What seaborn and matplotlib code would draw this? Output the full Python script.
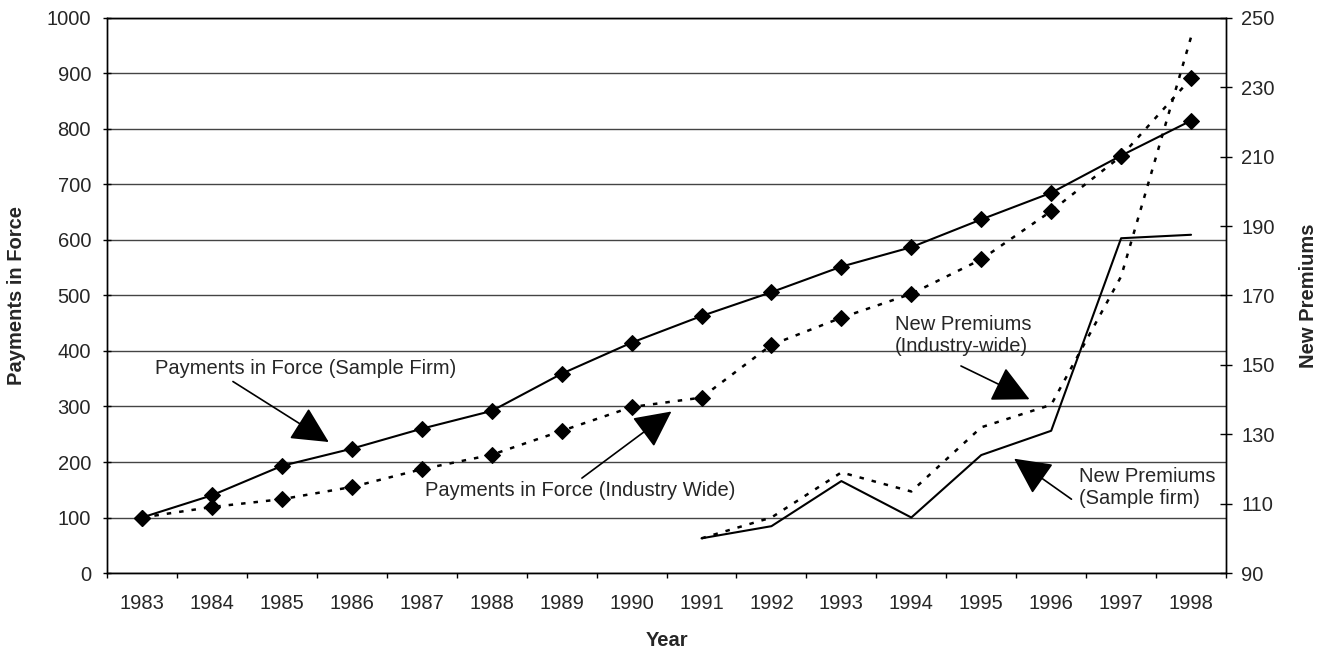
import numpy as np
import pandas as pd
import matplotlib
matplotlib.use("Agg")
import matplotlib.pyplot as plt
import seaborn as sns

years = [str(y) for y in range(1983, 1999)]
pif_sample = [100, 140, 193, 224, 260, 292, 359, 415, 463, 506, 552, 587, 637, 685, 752, 815]
pif_industry = [100, 119, 133, 155, 187, 213, 256, 299, 316, 411, 460, 503, 565, 652, 751, 891]

premium_years = [str(y) for y in range(1991, 1999)]
np_sample = [100, 103.5, 116.5, 106, 124, 131, 186.5, 187.5]
np_industry = [100, 106, 119, 113.5, 132, 138.5, 175.5, 244.5]

left_ticks = list(range(0, 1001, 100))
right_ticks = list(range(90, 251, 20))

sns.set_style("white")
plt.rcParams["font.family"] = ["Liberation Sans", "DejaVu Sans"]
FS = 14.5

x_all = np.arange(len(years))
x_prem = np.array([years.index(y) for y in premium_years])

fig = plt.figure(figsize=(13.25, 6.6), dpi=100)
ax = fig.add_axes([0.0808, 0.1318, 0.8445, 0.841])
ax2 = ax.twinx()

dotted = (0, (1.8, 3.2))

# Payments in force (left axis)
sns.lineplot(x=x_all, y=pif_sample, ax=ax, color="black", lw=1.5,
             marker="D", markersize=8, markeredgecolor="black")
sns.lineplot(x=x_all, y=pif_industry, ax=ax, color="black", lw=1.8,
             linestyle=dotted, marker="D", markersize=8, markeredgecolor="black")

# New premiums (right axis)
sns.lineplot(x=x_prem, y=np_sample, ax=ax2, color="black", lw=1.5)
sns.lineplot(x=x_prem, y=np_industry, ax=ax2, color="black", lw=1.8, linestyle=dotted)

ax.set_xlim(-0.5, len(years) - 0.5)
ax.set_ylim(0, 1000)
ax2.set_ylim(90, 250)
ax.set_yticks(left_ticks)
ax2.set_yticks(right_ticks)

ax.set_xticks(x_all)
ax.set_xticklabels(years)
ax.set_xticks(np.arange(-0.5, len(years)), minor=True)
ax.tick_params(axis="x", which="major", length=0, pad=15, labelsize=FS)
ax.tick_params(axis="x", which="minor", length=3.6, width=1, color="black", direction="out")
ax.tick_params(axis="y", length=6, width=1, color="black", direction="inout", labelsize=FS, pad=8.5)
ax2.tick_params(axis="y", length=9, width=1, color="black", direction="inout", labelsize=FS, pad=6.3)
ax.xaxis.set_ticks_position("bottom")
ax.yaxis.set_ticks_position("left")

ax.grid(axis="y", color="#444444", lw=1)
ax.set_axisbelow(True)
for a in (ax, ax2):
    for s in a.spines.values():
        s.set_color("black")
        s.set_linewidth(1)

ax.set_xlabel("Year", fontsize=FS, fontweight="bold")
ax.xaxis.set_label_coords(0.5, -0.104)
ax.set_ylabel("Payments in Force", fontsize=FS, fontweight="bold")
ax.yaxis.set_label_coords(-0.072, 0.5)
ax2.set_ylabel("New Premiums", fontsize=FS, fontweight="bold")
ax2.yaxis.set_label_coords(1.065, 0.5)

arrow = dict(arrowstyle="-|>,head_length=1.1,head_width=0.55", mutation_scale=21,
             color="black", lw=1.2, shrinkA=0, shrinkB=0)
ax.annotate("", xy=(2.67, 236), xytext=(1.3, 345), arrowprops=arrow)
ax.text(0.19, 368, "Payments in Force (Sample Firm)", fontsize=FS, va="center", ha="left")
ax.annotate("", xy=(7.57, 291), xytext=(6.29, 171), arrowprops=arrow)
ax.text(4.04, 148, "Payments in Force (Industry Wide)", fontsize=FS, va="center", ha="left")
ax.annotate("", xy=(12.69, 313), xytext=(11.71, 373), arrowprops=arrow)
ax.text(10.76, 428, "New Premiums\n(Industry-wide)", fontsize=FS, va="center", ha="left",
        linespacing=1.2)
ax.annotate("", xy=(12.47, 206), xytext=(13.29, 133), arrowprops=arrow)
ax.text(13.4, 154, "New Premiums\n(Sample firm)", fontsize=FS, va="center", ha="left",
        linespacing=1.2)

fig.savefig("out.png", dpi=100)
